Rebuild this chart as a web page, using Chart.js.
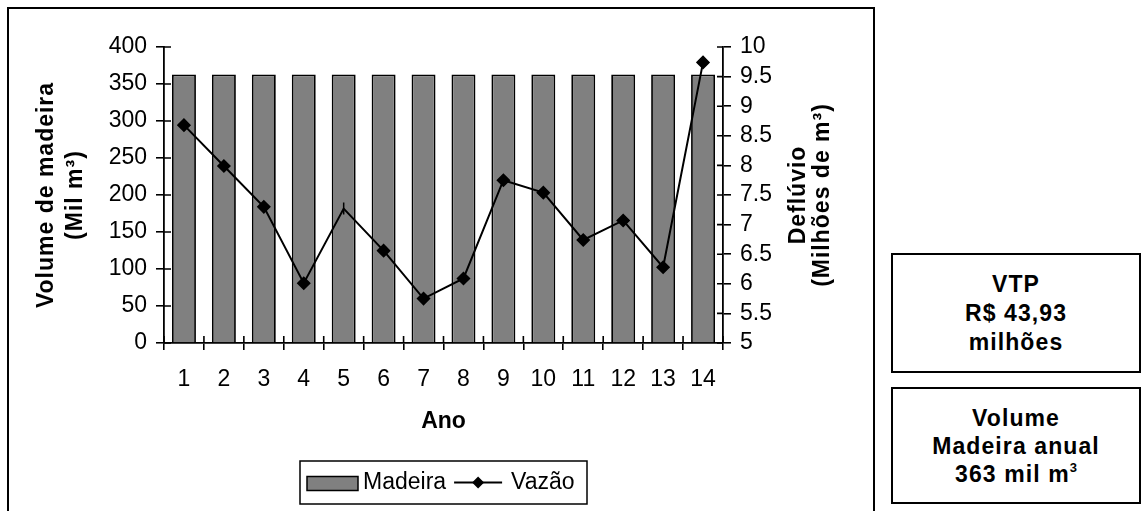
<!DOCTYPE html>
<html lang="pt-BR">
<head>
<meta charset="utf-8">
<title>Volume de madeira e vazão</title>
<script src="https://cdn.jsdelivr.net/npm/chart.js@4.4.1/dist/chart.umd.min.js"></script>
<style>
    html, body { margin: 0; padding: 0; background: #fff; overflow: hidden; }
    body { width: 1141px; height: 511px; position: relative; font-family: "Liberation Sans", Arial, sans-serif; color: #000; }
    #moldura { position: absolute; left: 7px; top: 7px; width: 868px; height: 600px; border: 2px solid #000; box-sizing: border-box; }
    #grafico { position: absolute; left: 0; top: 0; }
    .caixa {
        position: absolute; left: 891px; width: 250px;
        border: 2px solid #000; box-sizing: border-box;
        display: flex; flex-direction: column; justify-content: center; align-items: center;
        font-weight: bold; font-size: 23px; line-height: 28px; text-align: center;
        letter-spacing: 1.1px;
    }
    .caixa sup { font-size: 13px; line-height: 0; vertical-align: 0.8em; letter-spacing: 0; }
</style>
</head>
<body>
<div id="moldura"></div>
<canvas id="grafico" width="880" height="511"></canvas>
<div class="caixa" style="top:253px;height:120px;line-height:29px">
    <div>VTP</div><div>R$ 43,93</div><div>milhões</div>
</div>
<div class="caixa" style="top:387px;height:117px">
    <div>Volume</div><div>Madeira anual</div><div>363 mil m<sup>3</sup></div>
</div>
<script>
"use strict"

const anos = ['1', '2', '3', '4', '5', '6', '7', '8', '9', '10', '11', '12', '13', '14']
const madeira = [363, 363, 363, 363, 363, 363, 363, 363, 363, 363, 363, 363, 363, 363]
const vazao = [8.68, 7.99, 7.30, 6.01, 7.27, 6.56, 5.75, 6.09, 7.75, 7.54, 6.74, 7.07, 6.28, 9.74]
const ticksMadeira = [0, 50, 100, 150, 200, 250, 300, 350, 400]
const ticksVazao = [5, 5.5, 6, 6.5, 7, 7.5, 8, 8.5, 9, 9.5, 10]

const tituloEsq = ['Volume de madeira', '(Mil m³)']
const tituloDir = ['Deflúvio', '(Milhões de m³)']
const tituloX = 'Ano'

const fonte = '"Liberation Sans", Arial, sans-serif'

Chart.defaults.font.family = fonte
Chart.defaults.font.size = 23
Chart.defaults.color = '#000'

// o ponto 5 aparece como um traço vertical no original
let estilos = vazao.map((v, i) => i === 4 ? 'line' : 'rectRot')
let rotacoes = vazao.map((v, i) => i === 4 ? 90 : 0)

let textoVertical = function(ctx, linhas, xs, cy) {
    linhas.forEach((t, i) => {
        ctx.save()
        ctx.translate(xs[i], cy)
        ctx.rotate(-Math.PI / 2)
        ctx.fillText(t, 0, 0)
        ctx.restore()
    })
}

const marcasInternas = {
    id: 'marcasInternas',
    afterDatasetsDraw(chart) {
        const { ctx, scales } = chart
        ctx.save()
        ctx.strokeStyle = '#000'
        ctx.lineWidth = 1.6
        ctx.beginPath()
        const x = scales.x
        const n = x.ticks.length
        const passo = (x.right - x.left) / n
        for (let i = 0; i <= n; i++) {
            const px = x.left + i * passo
            ctx.moveTo(px, x.top)
            ctx.lineTo(px, x.top - 7)
        }
        scales.y.ticks.forEach((t, i) => {
            const py = scales.y.getPixelForTick(i)
            ctx.moveTo(scales.y.right, py)
            ctx.lineTo(scales.y.right + 7, py)
        })
        scales.y1.ticks.forEach((t, i) => {
            const py = scales.y1.getPixelForTick(i)
            ctx.moveTo(scales.y1.left, py)
            ctx.lineTo(scales.y1.left - 6, py)
        })
        ctx.stroke()
        ctx.restore()
    }
}

const titulos = {
    id: 'titulos',
    afterDraw(chart) {
        const { ctx, chartArea: a } = chart
        const cy = (a.top + a.bottom) / 2
        ctx.save()
        ctx.fillStyle = '#000'
        ctx.font = 'bold 23px ' + fonte
        ctx.textAlign = 'center'
        ctx.textBaseline = 'middle'
        ctx.letterSpacing = '1px'
        textoVertical(ctx, tituloEsq, [a.left - 117, a.left - 88], cy)
        textoVertical(ctx, tituloDir, [a.right + 76, a.right + 100], cy)
        ctx.letterSpacing = '0px'
        ctx.fillText(tituloX, (a.left + a.right) / 2, a.bottom + 79)
        ctx.restore()
    }
}

const legenda = {
    id: 'legenda',
    afterDraw(chart) {
        const { ctx, chartArea: a } = chart
        const barra = chart.data.datasets[0]
        const linha = chart.data.datasets[1]
        const cx = (a.left + a.right) / 2
        const caixa = { x: cx - 143.5, y: a.bottom + 118, w: 287, h: 43 }
        const cy = caixa.y + caixa.h / 2
        ctx.save()
        ctx.lineWidth = 1.5
        ctx.strokeStyle = '#000'
        ctx.strokeRect(caixa.x, caixa.y, caixa.w, caixa.h)

        let px = caixa.x + 7
        ctx.fillStyle = barra.backgroundColor
        ctx.fillRect(px, cy - 6, 51, 14)
        ctx.strokeRect(px, cy - 6, 51, 14)
        px += 56

        ctx.fillStyle = '#000'
        ctx.font = '23px ' + fonte
        ctx.textAlign = 'left'
        ctx.textBaseline = 'middle'
        ctx.fillText(barra.label, px, cy)
        px += ctx.measureText(barra.label).width + 8

        ctx.lineWidth = 2
        ctx.beginPath()
        ctx.moveTo(px, cy)
        ctx.lineTo(px + 48, cy)
        ctx.stroke()
        const r = 6
        ctx.beginPath()
        ctx.moveTo(px + 24, cy - r)
        ctx.lineTo(px + 24 + r, cy)
        ctx.lineTo(px + 24, cy + r)
        ctx.lineTo(px + 24 - r, cy)
        ctx.closePath()
        ctx.fill()
        px += 57

        ctx.fillText(linha.label, px, cy)
        ctx.restore()
    }
}

let eixoY = function(lista, posicao, largura) {
    return {
        type: 'linear',
        position: posicao,
        min: lista[0],
        max: lista[lista.length - 1],
        afterBuildTicks: s => { s.ticks = lista.map(v => ({ value: v })) },
        afterFit: s => { s.width = largura },
        grid: { drawOnChartArea: false, drawTicks: true, tickLength: 8, color: '#000', lineWidth: 1.6 },
        border: { display: true, color: '#000', width: 1.8 },
        ticks: { padding: 9, color: '#000', autoSkip: false, font: { size: 23 }, callback: v => String(v) }
    }
}

let ctx = document.getElementById('grafico').getContext('2d')
let grafico = new Chart(ctx, {
    data: {
        labels: anos,
        datasets: [{
            type: 'bar',
            label: 'Madeira',
            data: madeira,
            yAxisID: 'y',
            backgroundColor: '#808080',
            borderColor: '#000',
            borderWidth: 1.8,
            barPercentage: 0.6,
            categoryPercentage: 1,
            order: 1
        }, {
            type: 'line',
            label: 'Vazão',
            data: vazao,
            yAxisID: 'y1',
            borderColor: '#000',
            backgroundColor: '#000',
            borderWidth: 2,
            tension: 0,
            pointStyle: estilos,
            pointRotation: rotacoes,
            pointRadius: 6,
            pointBorderWidth: 1.5,
            pointBackgroundColor: '#000',
            pointBorderColor: '#000',
            order: 0
        }]
    },
    options: {
        responsive: false,
        animation: false,
        events: [],
        layout: { padding: { top: 47, left: 0, right: 0, bottom: 0 } },
        plugins: {
            legend: { display: false },
            tooltip: { enabled: false }
        },
        scales: {
            x: {
                type: 'category',
                offset: true,
                afterFit: s => { s.height = 168 },
                grid: { offset: true, drawOnChartArea: false, drawTicks: true, tickLength: 7, color: '#000', lineWidth: 1.6 },
                border: { display: true, color: '#000', width: 1.8 },
                ticks: { padding: 16, color: '#000', maxRotation: 0, autoSkip: false, font: { size: 23 } }
            },
            y: eixoY(ticksMadeira, 'left', 164),
            y1: eixoY(ticksVazao, 'right', 157)
        }
    },
    plugins: [marcasInternas, titulos, legenda]
})
</script>
</body>
</html>
